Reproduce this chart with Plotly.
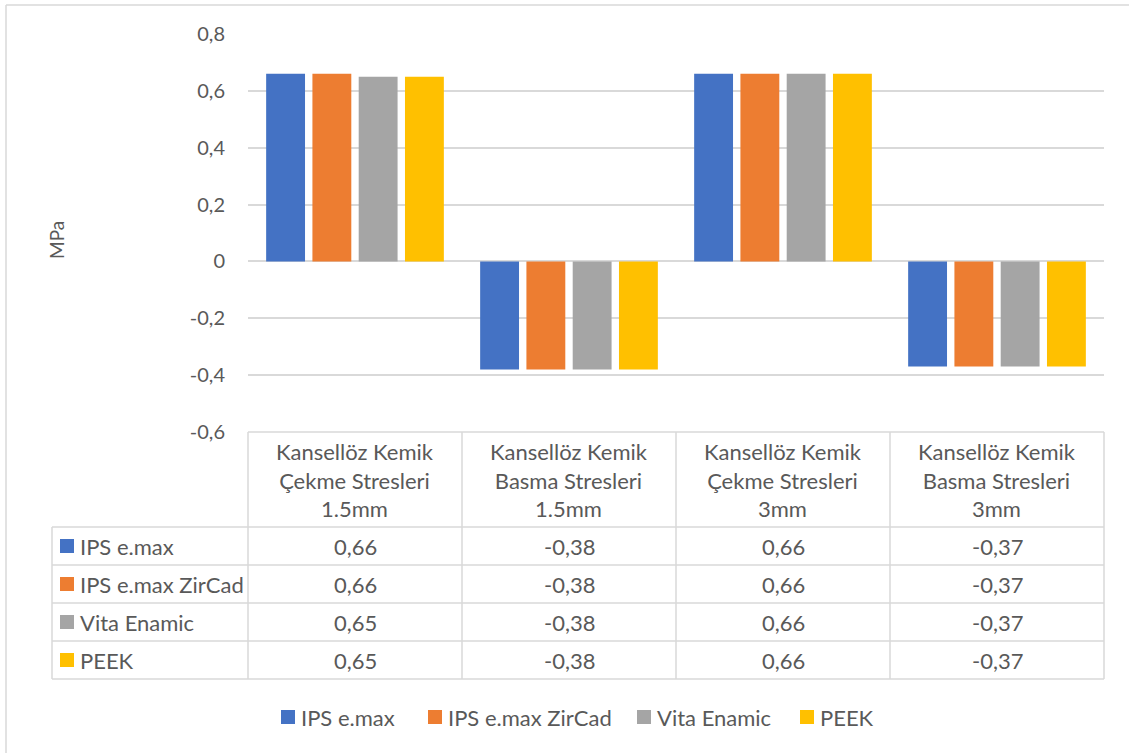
import plotly.graph_objects as go

# Chart data
categories = [
    "Kansellöz Kemik<br>Çekme Stresleri<br>1.5mm",
    "Kansellöz Kemik<br>Basma Stresleri<br>1.5mm",
    "Kansellöz Kemik<br>Çekme Stresleri<br>3mm",
    "Kansellöz Kemik<br>Basma Stresleri<br>3mm",
]
series_names = ["IPS e.max", "IPS e.max ZirCad", "Vita Enamic", "PEEK"]
ips_emax = [0.66, -0.38, 0.66, -0.37]
ips_emax_zircad = [0.66, -0.38, 0.66, -0.37]
vita_enamic = [0.65, -0.38, 0.66, -0.37]
peek = [0.65, -0.38, 0.66, -0.37]
series_values = [ips_emax, ips_emax_zircad, vita_enamic, peek]
colors = ["#4472C4", "#ED7D31", "#A5A5A5", "#FFC000"]

tick_vals = [0.8, 0.6, 0.4, 0.2, 0.0, -0.2, -0.4, -0.6]
tick_text = ["0,8", "0,6", "0,4", "0,2", "0", "-0,2", "-0,4", "-0,6"]

W, H = 1129, 753
FONT = "Lato"
TXT = "#595959"
GRID = "#D9D9D9"
TABLE_SIZE = 22
LEGEND_SIZE = 22


def px(x):
    return x / W


def py(y):
    return 1 - y / H


def fmt(v):
    return f"{v:.2f}".replace(".", ",")


fig = go.Figure()
x_keys = [f"c{i}" for i in range(len(categories))]
for name, vals, col in zip(series_names, series_values, colors):
    fig.add_trace(go.Bar(
        x=x_keys, y=vals, name=name,
        marker=dict(color=col, line=dict(width=0)),
        hoverinfo="y+name",
    ))

# Plot area geometry (pixels)
left, right, top, bottom = 248, 1104, 34, 432
table_left = 52
row_lines = [527, 565, 603, 641, 679]

fig.update_layout(
    width=W, height=H,
    margin=dict(l=0, r=0, t=0, b=0, autoexpand=False),
    paper_bgcolor="white", plot_bgcolor="white",
    barmode="group", bargap=0.135, bargroupgap=0.16,
    font=dict(family=FONT, color=TXT, size=19),
    xaxis=dict(domain=[px(left), px(right)], showticklabels=False,
               showgrid=False, zeroline=False, showline=False,
               categoryorder="array", categoryarray=x_keys, automargin=False),
    yaxis=dict(domain=[py(bottom), py(top)], range=[-0.6, 0.8],
               tickvals=tick_vals, ticktext=tick_text,
               showgrid=True, gridcolor=GRID, gridwidth=1.5,
               zeroline=True, zerolinecolor=GRID, zerolinewidth=1.5,
               showline=False, ticks="", ticklabelstandoff=22, automargin=False,
               tickfont=dict(family=FONT, color=TXT, size=20)),
    showlegend=False,
)

shapes = []
line = dict(color=GRID, width=1.5)
# Outer chart frame (left and top edges visible)
shapes.append(dict(type="line", xref="paper", yref="paper",
                   x0=px(6), x1=1.01, y0=py(5), y1=py(5),
                   line=dict(color="#D9D9D9", width=1.5)))
shapes.append(dict(type="line", xref="paper", yref="paper",
                   x0=px(6), x1=px(6), y0=py(5), y1=-0.01,
                   line=dict(color="#D9D9D9", width=1.5)))

# Data table grid
col_lines = [left + i * (right - left) / 4 for i in range(5)]
shapes.append(dict(type="line", xref="paper", yref="paper",
                   x0=px(left), x1=px(right), y0=py(bottom), y1=py(bottom), line=line))
for yl in row_lines:
    shapes.append(dict(type="line", xref="paper", yref="paper",
                       x0=px(table_left), x1=px(right), y0=py(yl), y1=py(yl), line=line))
for xl in col_lines:
    shapes.append(dict(type="line", xref="paper", yref="paper",
                       x0=px(xl), x1=px(xl), y0=py(bottom), y1=py(row_lines[-1]), line=line))
shapes.append(dict(type="line", xref="paper", yref="paper",
                   x0=px(table_left), x1=px(table_left),
                   y0=py(row_lines[0]), y1=py(row_lines[-1]), line=line))

annotations = []
# Header cells
for i, cat in enumerate(categories):
    cx = (col_lines[i] + col_lines[i + 1]) / 2
    annotations.append(dict(xref="paper", yref="paper", x=px(cx), y=py((bottom + row_lines[0]) / 2),
                            text=cat, showarrow=False, xanchor="center", yanchor="middle",
                            font=dict(family=FONT, color=TXT, size=TABLE_SIZE)))
# Series rows
for r, (name, vals, col) in enumerate(zip(series_names, series_values, colors)):
    cy = (row_lines[r] + row_lines[r + 1]) / 2
    shapes.append(dict(type="rect", xref="paper", yref="paper",
                       x0=px(60), x1=px(74), y0=py(cy - 7), y1=py(cy + 7),
                       fillcolor=col, line=dict(width=0)))
    annotations.append(dict(xref="paper", yref="paper", x=px(78), y=py(cy),
                            text=name, showarrow=False, xanchor="left", yanchor="middle",
                            font=dict(family=FONT, color=TXT, size=TABLE_SIZE)))
    for i, v in enumerate(vals):
        cx = (col_lines[i] + col_lines[i + 1]) / 2
        annotations.append(dict(xref="paper", yref="paper", x=px(cx), y=py(cy),
                                text=fmt(v), showarrow=False, xanchor="center", yanchor="middle",
                                font=dict(family=FONT, color=TXT, size=TABLE_SIZE)))

# Legend below the table
legend_x = [281, 428, 637, 800]
legend_y = 717
for name, col, lx in zip(series_names, colors, legend_x):
    shapes.append(dict(type="rect", xref="paper", yref="paper",
                       x0=px(lx), x1=px(lx + 14), y0=py(legend_y - 7), y1=py(legend_y + 7),
                       fillcolor=col, line=dict(width=0)))
    annotations.append(dict(xref="paper", yref="paper", x=px(lx + 18), y=py(legend_y),
                            text=name, showarrow=False, xanchor="left", yanchor="middle",
                            font=dict(family=FONT, color=TXT, size=LEGEND_SIZE)))

# Axis title
annotations.append(dict(xref="paper", yref="paper", x=px(57), y=py(240),
                        text="MPa", textangle=-90, showarrow=False,
                        xanchor="center", yanchor="middle",
                        font=dict(family=FONT, color=TXT, size=19)))

fig.update_layout(shapes=shapes, annotations=annotations)
fig.write_html("out.html")
